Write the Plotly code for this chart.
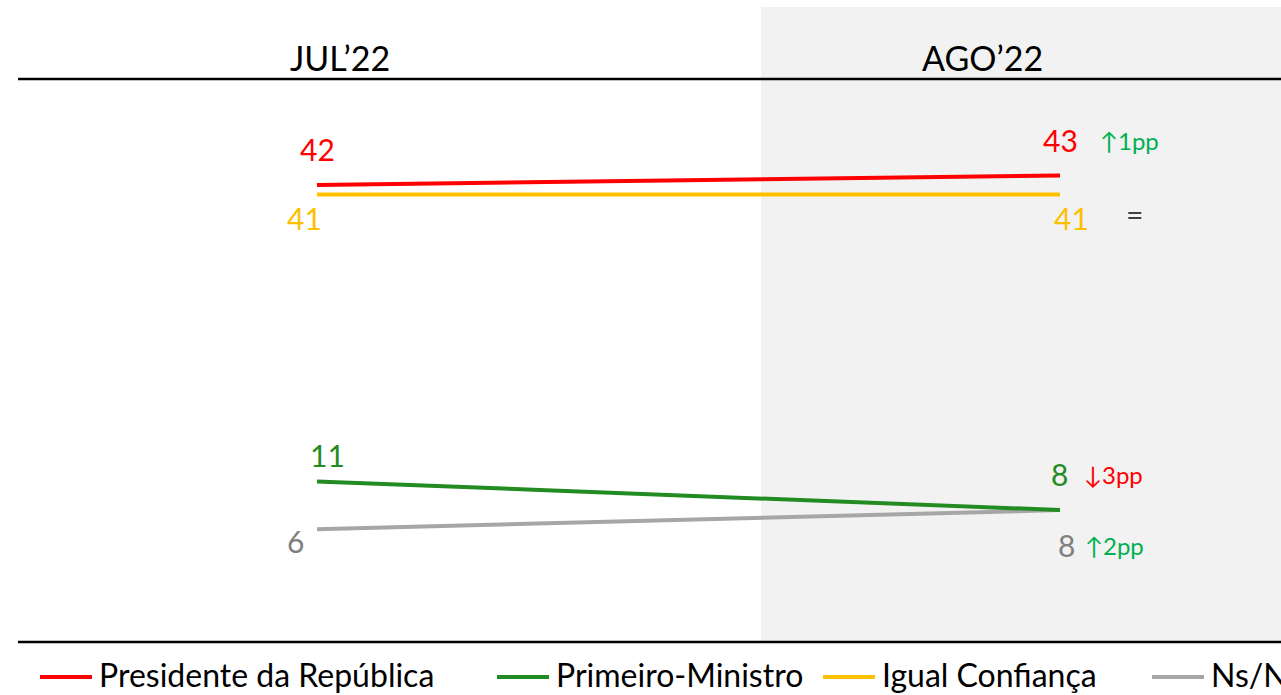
import plotly.graph_objects as go

months = ["JUL’22", "AGO’22"]
series_names = ["Presidente da República", "Primeiro-Ministro", "Igual Confiança", "Ns/Nr"]
presidente = [42, 43]
primeiro_ministro = [11, 8]
igual = [41, 41]
nsnr = [6, 8]
changes = ["↑1pp", "↓3pp", "=", "↑2pp"]

line_colors = ["#FF0000", "#228B22", "#FFC000", "#A6A6A6"]
text_colors = ["#FF0000", "#228B22", "#FFC000", "#808080"]
change_colors = ["#00B050", "#FF0000", "#404040", "#00B050"]
FONT = "Lato"

series_values = [presidente, primeiro_ministro, igual, nsnr]
xs = [0, 1]

fig = go.Figure()
# draw order: yellow, red, gray, green
for i in [2, 0, 3, 1]:
    fig.add_trace(go.Scatter(x=xs, y=series_values[i], mode="lines",
                             line=dict(color=line_colors[i], width=4),
                             name=series_names[i], showlegend=False,
                             hoverinfo="skip"))

annotations = []
# value label offsets (xshift, yshift) per series per month
offsets = {
    0: [(0, 36), (0, 35)],
    1: [(10, 26), (-1, 36)],
    2: [(-13, -23), (11, -23)],
    3: [(-22, -12), (6, -35)],
}
for i, vals in enumerate(series_values):
    for j, v in enumerate(vals):
        dx, dy = offsets[i][j]
        annotations.append(dict(x=xs[j], y=v, xref="x", yref="y", text=str(v),
                                showarrow=False, xshift=dx, yshift=dy,
                                font=dict(family=FONT, size=30, color=text_colors[i])))
# change labels (left anchored near AGO point)
chg_off = {0: (38, 35), 1: (22, 36), 2: (64, -19), 3: (23, -35)}
chg_size = {0: 24, 1: 24, 2: 30, 3: 24}
for i, c in enumerate(changes):
    dx, dy = chg_off[i]
    annotations.append(dict(x=1, y=series_values[i][1], xref="x", yref="y", text=c,
                            showarrow=False, xanchor="left", xshift=dx, yshift=dy,
                            font=dict(family=FONT, size=chg_size[i], color=change_colors[i])))

# headers
header_x = [0.255, 0.764]
for hx, m in zip(header_x, months):
    annotations.append(dict(x=hx, y=1.039, xref="paper", yref="paper", text=m,
                            xanchor="center", yanchor="middle",
                            showarrow=False, font=dict(family=FONT, size=34, color="#000000")))

# manual legend
leg_x = [40, 497, 823, 1152]
W, L, H, B, T = 1281, 18, 695, 53, 79
ph = H - T - B
pw = W - L
shapes = []
shapes.append(dict(type="rect", xref="paper", yref="paper",
                   x0=(761 - L) / pw, x1=1.02, y0=0, y1=1 + (T - 7) / ph,
                   fillcolor="#F2F2F2", line=dict(width=0), layer="below"))
shapes.append(dict(type="line", xref="paper", yref="paper", x0=0, x1=1.02, y0=1, y1=1,
                   line=dict(color="#000000", width=2.5)))
shapes.append(dict(type="line", xref="paper", yref="paper", x0=0, x1=1.02, y0=0, y1=0,
                   line=dict(color="#000000", width=2.5)))
leg_line_y = -(677 - (H - B)) / ph
leg_text_y = -(674 - (H - B)) / ph
for i, name in enumerate(series_names):
    x0 = (leg_x[i] - L) / pw
    x1 = (leg_x[i] + 52 - L) / pw
    shapes.append(dict(type="line", xref="paper", yref="paper", x0=x0, x1=x1,
                       y0=leg_line_y, y1=leg_line_y, line=dict(color=line_colors[i], width=4)))
    annotations.append(dict(x=(leg_x[i] + 57 - L) / pw, y=leg_text_y, xref="paper", yref="paper",
                            text=name, showarrow=False, xanchor="left", yanchor="middle",
                            font=dict(family=FONT, size=32, color="#000000")))

ppx = 743.0
fig.update_layout(
    width=W, height=H,
    margin=dict(l=L, r=0, t=T, b=B),
    plot_bgcolor="rgba(0,0,0,0)", paper_bgcolor="#FFFFFF",
    xaxis=dict(range=[-(317 - L) / ppx, 1 + (W - 1060) / ppx], showgrid=False,
               zeroline=False, showticklabels=False, fixedrange=True),
    yaxis=dict(range=[-5.80, 53.09], showgrid=False, zeroline=False,
               showticklabels=False, fixedrange=True),
    shapes=shapes, annotations=annotations, showlegend=False,
)
fig.write_html("out.html", config={"displayModeBar": False},
               post_script="document.body.style.margin='0';document.body.style.overflow='hidden';")
